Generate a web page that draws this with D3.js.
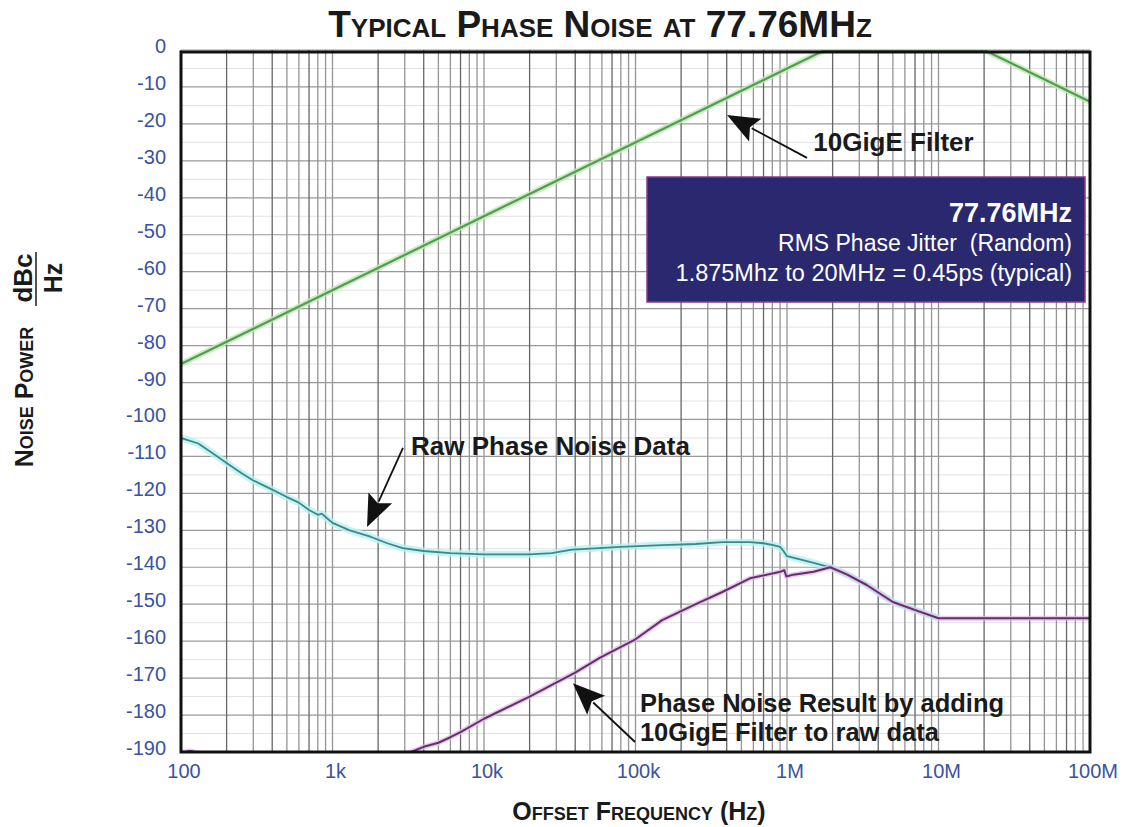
<!DOCTYPE html>
<html><head><meta charset="utf-8">
<script src="https://cdn.jsdelivr.net/npm/d3@7"></script>
<style>
html,body{margin:0;padding:0;background:#fff;}
svg{display:block;font-family:"Liberation Sans",Arial,Helvetica,sans-serif;}
</style></head>
<body>
<svg id="chart" width="1122" height="827"></svg>
<script>
// ---------------- data ----------------
const xTickValues = [1e2, 1e3, 1e4, 1e5, 1e6, 1e7, 1e8];
const xTickLabels = ["100", "1k", "10k", "100k", "1M", "10M", "100M"];
const yTickValues = d3.range(0, -191, -10);

// 10GigE filter mask
const filterFreq = [100, 1780000, 20000000, 100000000];
const filterDb   = [-85, 0, 0, -14];

// raw phase noise
const rawFreq = [100,130,160,200,250,300,400,500,600,700,800,850,900,1000,1300,1800,2300,2900,4000,6000,
  10000,20000,28000,38000,58000,79000,150000,250000,374000,570000,700000,810000,900000,940000,1000000,
  1200000,1500000,1930000,2500000,3360000,5000000,7500000,10000000];
const rawDb = [-105,-106.5,-109,-111.8,-114.5,-116.5,-119,-121,-122.5,-124.5,-125.8,-125.5,-126.4,-128,-130,-131.8,-133.5,-134.8,-135.6,-136.2,
  -136.5,-136.5,-136.2,-135.2,-134.8,-134.5,-134,-133.7,-133.2,-133.2,-133.5,-134,-134.5,-135.4,-137,
  -137.8,-138.8,-140,-142,-144.8,-149.4,-152,-153.8];

// result (raw + filter)
const resFreq = [100,115,135,200,1000,2000,3300,4000,5000,6000,7000,10000,20000,40000,58000,100000,150000,250000,
  374000,570000,890000,960000,990000,1100000,1500000,1930000,2500000,3360000,5000000,7500000,10000000,100000000];
const resDb = [-190.2,-189.7,-190.4,-192,-193,-192,-190,-188.6,-187.5,-186,-184.6,-181,-175,-168.5,-164.5,-159.5,-154.3,-150,
  -146.7,-143,-141.3,-140.8,-142.5,-142,-141.2,-140,-142,-144.8,-149.4,-152,-153.8,-153.8];

// ---------------- chart ----------------
const svg = d3.select("#chart");
const L = 181, R = 1090, T = 50, B = 752;
const x = d3.scaleLog().domain([1e2, 1e8]).range([L, R]);
const y = d3.scaleLinear().domain([-190, 0]).range([B, T]);

svg.append("defs").append("clipPath").attr("id", "plotclip")
  .append("rect").attr("x", L).attr("y", T).attr("width", R - L).attr("height", B - T);

const grid = svg.append("g");
grid.selectAll("line.h5").data(d3.range(-5, -190, -10)).join("line")
  .attr("x1", L).attr("x2", R).attr("y1", d => y(d)).attr("y2", d => y(d))
  .attr("stroke", "#e2e2e2").attr("stroke-width", 1);
grid.selectAll("line.h").data(yTickValues).join("line")
  .attr("x1", L).attr("x2", R).attr("y1", d => y(d)).attr("y2", d => y(d))
  .attr("stroke", "#999").attr("stroke-width", 1.2);
const vVals = [];
for (let d = 100; d < 1e8; d *= 10) for (let m = 1; m < 10; m++) vVals.push(m * d);
grid.selectAll("line.v").data(vVals).join("line")
  .attr("x1", d => x(d)).attr("x2", d => x(d)).attr("y1", T).attr("y2", B)
  .attr("stroke", (d, i) => ([1, 3, 6].includes(i % 9) ? "#666" : "#959595"))
  .attr("stroke-width", 1.3);

const plot = svg.append("g").attr("clip-path", "url(#plotclip)");
const line = d3.line().x(d => x(d[0])).y(d => y(d[1]));
function series(fr, db, halo, core, hw, cw) {
  const pts = fr.map((f, i) => [f, db[i]]);
  plot.append("path").attr("d", line(pts)).attr("fill", "none")
    .attr("stroke", halo).attr("stroke-width", hw).attr("stroke-linejoin", "round").attr("opacity", 0.8);
  plot.append("path").attr("d", line(pts)).attr("fill", "none")
    .attr("stroke", core).attr("stroke-width", cw).attr("stroke-linejoin", "round");
}
series(filterFreq, filterDb, "#bfe8b4", "#569a56", 6, 2.2);
series(rawFreq, rawDb, "#b8f0f0", "#3e8888", 7, 1.8);
series(resFreq, resDb, "#eab8ea", "#5a3566", 5, 2);

// frame
svg.append("rect").attr("x", L).attr("y", T + 2).attr("width", R - L).attr("height", B - T - 2)
  .attr("fill", "none").attr("stroke", "#111").attr("stroke-width", 3);

// tick labels
const tickColor = "#3a52a3";
svg.append("g").selectAll("text").data(yTickValues).join("text")
  .attr("x", 166).attr("y", d => y(d) - 4).attr("text-anchor", "end").attr("dominant-baseline", "central")
  .attr("font-size", 20).attr("fill", tickColor).text(d => d);
svg.append("g").selectAll("text").data(xTickValues).join("text")
  .attr("x", d => x(d) + 3).attr("y", 778).attr("text-anchor", "middle")
  .attr("font-size", 20).attr("fill", tickColor).text((d, i) => xTickLabels[i]);

// title and axis labels
svg.append("text").attr("x", 600).attr("y", 37).attr("text-anchor", "middle")
  .attr("font-size", 37).attr("font-weight", "bold").attr("font-variant", "small-caps").attr("fill", "#1a1a1a")
  .text("Typical Phase Noise at 77.76MHz");
svg.append("text").attr("x", 639).attr("y", 820).attr("text-anchor", "middle")
  .attr("font-size", 25).attr("font-weight", "bold").attr("font-variant", "small-caps").attr("fill", "#1a1a1a")
  .text("Offset Frequency (Hz)");
svg.append("text").attr("transform", "translate(33,397) rotate(-90)").attr("text-anchor", "middle")
  .attr("font-size", 25).attr("font-weight", "bold").attr("font-variant", "small-caps").attr("fill", "#1a1a1a")
  .text("Noise Power");
svg.append("text").attr("transform", "translate(32,278) rotate(-90)").attr("text-anchor", "middle")
  .attr("font-size", 26).attr("font-weight", "bold").attr("fill", "#1a1a1a").text("dBc");
svg.append("line").attr("x1", 36).attr("x2", 36).attr("y1", 252).attr("y2", 306)
  .attr("stroke", "#1a1a1a").attr("stroke-width", 1.5);
svg.append("text").attr("transform", "translate(62,278) rotate(-90)").attr("text-anchor", "middle")
  .attr("font-size", 25).attr("font-weight", "bold").attr("fill", "#1a1a1a").text("Hz");

// annotations (data coordinates)
function arrow(tipF, tipDb, tailF, tailDb) {
  const x1 = x(tailF), y1 = y(tailDb), x2 = x(tipF), y2 = y(tipDb);
  const dx = x2 - x1, dy = y2 - y1, len = Math.hypot(dx, dy);
  const ux = dx / len, uy = dy / len, hl = 32, hw = 13;
  const bx = x2 - ux * hl, by = y2 - uy * hl;
  svg.append("line").attr("x1", x1).attr("y1", y1).attr("x2", bx + ux * 4).attr("y2", by + uy * 4)
    .attr("stroke", "#111").attr("stroke-width", 1.8);
  svg.append("path").attr("d",
    `M${x2},${y2}L${bx - uy * hw},${by + ux * hw}L${bx + ux * 6},${by + uy * 6}L${bx + uy * hw},${by - ux * hw}Z`)
    .attr("fill", "#111");
}
function label(f, db, txt, fs) {
  svg.append("text").attr("x", x(f)).attr("y", y(db)).attr("font-size", fs || 26).attr("font-weight", "bold")
    .attr("fill", "#1a1a1a").text(txt);
}
arrow(402000, -17.6, 1355000, -29.2);
label(1490000, -27.4, "10GigE Filter");
arrow(1690, -129.1, 2920, -107.7);
label(3300, -109.6, "Raw Phase Noise Data");
arrow(38600, -171.4, 99300, -187.3);
label(107000, -179.3, "Phase Noise Result by adding", 25.5);
label(107000, -187.0, "10GigE Filter to raw data", 25.5);

// info box
const box = svg.append("g");
box.append("rect").attr("x", 647).attr("y", 177).attr("width", 438).attr("height", 125)
  .attr("fill", "#2a286e").attr("stroke", "#8a3a8a").attr("stroke-width", 1.5);
box.append("text").attr("x", 1072).attr("y", 222).attr("text-anchor", "end").attr("font-size", 27)
  .attr("font-weight", "bold").attr("fill", "#fff").text("77.76MHz");
box.append("text").attr("x", 1072).attr("y", 251).attr("text-anchor", "end").attr("font-size", 23)
  .attr("fill", "#fff").style("white-space", "pre").text("RMS Phase Jitter  (Random)");
box.append("text").attr("x", 1072).attr("y", 281).attr("text-anchor", "end").attr("font-size", 23.5)
  .attr("fill", "#fff").text("1.875Mhz to 20MHz = 0.45ps (typical)");
</script>
</body></html>
